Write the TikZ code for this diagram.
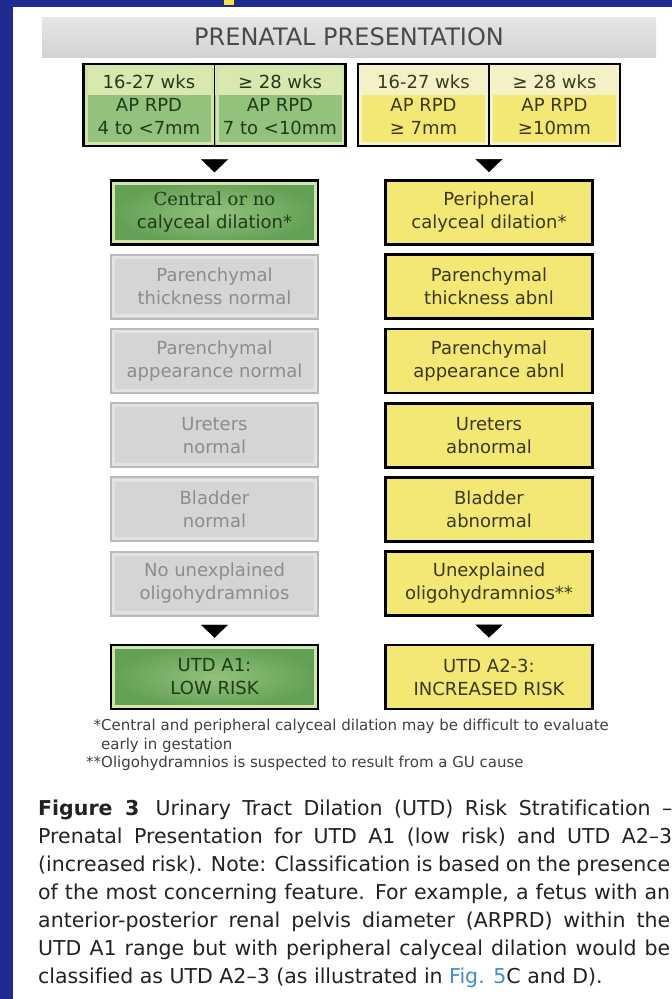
\documentclass[tikz,border=0pt]{standalone}
\usepackage{fontspec}
\setmainfont{DejaVu Sans}[Ligatures=CommonOff]
\newfontfamily\slabfont{DejaVu Serif}
\usetikzlibrary{arrows.meta,positioning,fit}
\definecolor{SlideBlue}{HTML}{1F2B8E}
\definecolor{MarkYellow}{HTML}{F4E53C}
\definecolor{TitleGray}{HTML}{4A4A4A}
\definecolor{LowGreen}{HTML}{93C27C}
\definecolor{LowDark}{HTML}{62A055}
\definecolor{LowBand}{HTML}{D9E8AF}
\definecolor{LowRim}{HTML}{D3E4A8}
\definecolor{LowText}{HTML}{213A18}
\definecolor{HighYellow}{HTML}{F2E873}
\definecolor{HighBand}{HTML}{F4F1C6}
\definecolor{HighRim}{HTML}{F6F2C8}
\definecolor{HighText}{HTML}{3A391C}
\definecolor{NormFill}{HTML}{D5D5D5}
\definecolor{NormRim}{HTML}{E3E3E3}
\definecolor{NormEdge}{HTML}{BABABA}
\definecolor{NormText}{HTML}{8C8C8C}
\definecolor{NoteText}{HTML}{404040}
\definecolor{CapText}{HTML}{222222}
\definecolor{LinkBlue}{HTML}{3B8FD4}
\newcommand{\cellfont}{\fontsize{18}{23}\selectfont}
\newcommand{\notefont}{\fontsize{15}{18.5}\selectfont}
\newcommand{\capfont}{\fontsize{20.5}{28}\selectfont}

\begin{document}
\begin{tikzpicture}[x=1pt,y=-1pt,
  rim/.style={path picture={\draw[#1,line width=3pt]
    ([shift={(2.75pt,-2.75pt)}]path picture bounding box.north west) rectangle
    ([shift={(-2.75pt,2.75pt)}]path picture bounding box.south east);}},
  band/.style 2 args={path picture={
    \fill[#1] (path picture bounding box.north west) rectangle ([yshift=-31pt]path picture bounding box.north east);
    \draw[#2,line width=3pt]
    ([shift={(2.5pt,-2.5pt)}]path picture bounding box.north west) rectangle
    ([shift={(-2.5pt,2.5pt)}]path picture bounding box.south east);}},
  titlebar/.style={top color=black!10,bottom color=black!17,minimum width=614pt,minimum height=40pt,
    text=TitleGray,font=\fontsize{24}{24}\selectfont},
  cell/.style={draw=black,line width=1.5pt,outer sep=0pt,inner sep=0pt,minimum width=131pt,
    minimum height=82pt,align=center,font=\cellfont},
  lowcell/.style={cell,fill=LowGreen,text=LowText,band={LowBand}{LowRim}},
  highcell/.style={cell,fill=HighYellow,text=HighText,band={HighBand}{HighRim}},
  group/.style={draw=black,line width=2.5pt,inner sep=0pt},
  item/.style={minimum width=207pt,minimum height=64pt,inner sep=0pt,align=center,font=\cellfont},
  lowbox/.style={item,draw=black,line width=2.5pt,inner color=LowGreen,outer color=LowDark,
    text=LowText,rim=LowRim},
  normbox/.style={item,draw=NormEdge,line width=2pt,fill=NormFill,text=NormText,rim=NormRim},
  highbox/.style={item,draw=black,line width=2.8pt,fill=HighYellow,text=HighText},
  flow/.style={-{Triangle[length=13pt,width=27pt]},line width=0.4pt},
  note/.style={inner sep=0pt,align=left,text=NoteText,font=\notefont},
  legend/.style={inner sep=0pt,align=left,text=CapText,font=\capfont}]
 \useasboundingbox (0,0) rectangle (672,999);
 \fill[SlideBlue] (0,0) rectangle (672,999);
 \fill[white] (13,7) rectangle (672,999);
 \fill[MarkYellow] (224,0) rectangle (234,5);
 \node[titlebar] (title) at (349,37) {PRENATAL PRESENTATION};
 % AP RPD cells
 \node[lowcell] (lowA) at (149,105) {16-27 wks\\AP RPD\\4 to <7mm};
 \node[lowcell,right=0pt of lowA] (lowB) {≥ 28 wks\\AP RPD\\7 to <10mm};
 \node[highcell] (highA) at (423.5,105) {16-27 wks\\AP RPD\\≥ 7mm};
 \node[highcell,right=0pt of highA] (highB) {≥ 28 wks\\AP RPD\\≥10mm};
 \node[group,fit=(lowA)(lowB)] (lowgrp) {};
 \node[group,fit=(highA)(highB)] (highgrp) {};
 % findings
 \node[lowbox] (left1) at (214.5,212.5) {{\slabfont Central or no}\\calyceal dilation*};
 \foreach \i/\txt in {2/{Parenchymal\\thickness normal},3/{Parenchymal\\appearance normal},
   4/{Ureters\\normal},5/{Bladder\\normal},6/{No unexplained\\oligohydramnios}}{
   \node[normbox] (left\i) at (214.5,{212.5+74.2*(\i-1)}) {\txt};}
 \foreach \i/\txt in {1/{Peripheral\\calyceal dilation*},2/{Parenchymal\\thickness abnl},
   3/{Parenchymal\\appearance abnl},4/{Ureters\\abnormal},5/{Bladder\\abnormal},
   6/{Unexplained\\oligohydramnios**}}{
   \node[highbox] (right\i) at (489,{212.5+74.2*(\i-1)}) {\txt};}
 % outcome
 \node[lowbox] (lowrisk) at (214.5,677) {UTD A1:\\LOW RISK};
 \node[highbox] (highrisk) at (489,677) {UTD A2-3:\\INCREASED RISK};
 % arrows
 \draw[flow,shorten <=12pt,shorten >=7pt] (lowgrp.south) -- (left1.north);
 \draw[flow,shorten <=12pt,shorten >=7pt] (highgrp.south) -- (right1.north);
 \draw[flow,shorten <=9pt,shorten >=6pt] (left6.south) -- (lowrisk.north);
 \draw[flow,shorten <=9pt,shorten >=6pt] (right6.south) -- (highrisk.north);
 % footnotes
 \node[note,anchor=north west] (notes) at (101,719)
   {\llap{*}Central and peripheral calyceal dilation may be difficult to evaluate\\
    early in gestation\\
    \llap{**}Oligohydramnios is suspected to result from a GU cause};
 % figure caption
 \node[legend,anchor=north west] (caption) at (38,800)
   {\makebox[634pt][s]{\textbf{Figure 3}\hspace{0.8em}Urinary Tract Dilation (UTD) Risk Stratification –}\\
    \makebox[634pt][s]{Prenatal Presentation for UTD A1 (low risk) and UTD A2–3}\\
    \makebox[632pt][s]{(increased risk). Note: Classification is based on the presence}\\
    \makebox[632pt][s]{of the most concerning feature. For example, a fetus with an}\\
    \makebox[632pt][s]{anterior-posterior renal pelvis diameter (ARPRD) within the}\\
    \makebox[632pt][s]{UTD A1 range but with peripheral calyceal dilation would be}\\
    classified as UTD A2–3 (as illustrated in \textcolor{LinkBlue}{Fig. 5}C and D).};
\end{tikzpicture}
\end{document}
